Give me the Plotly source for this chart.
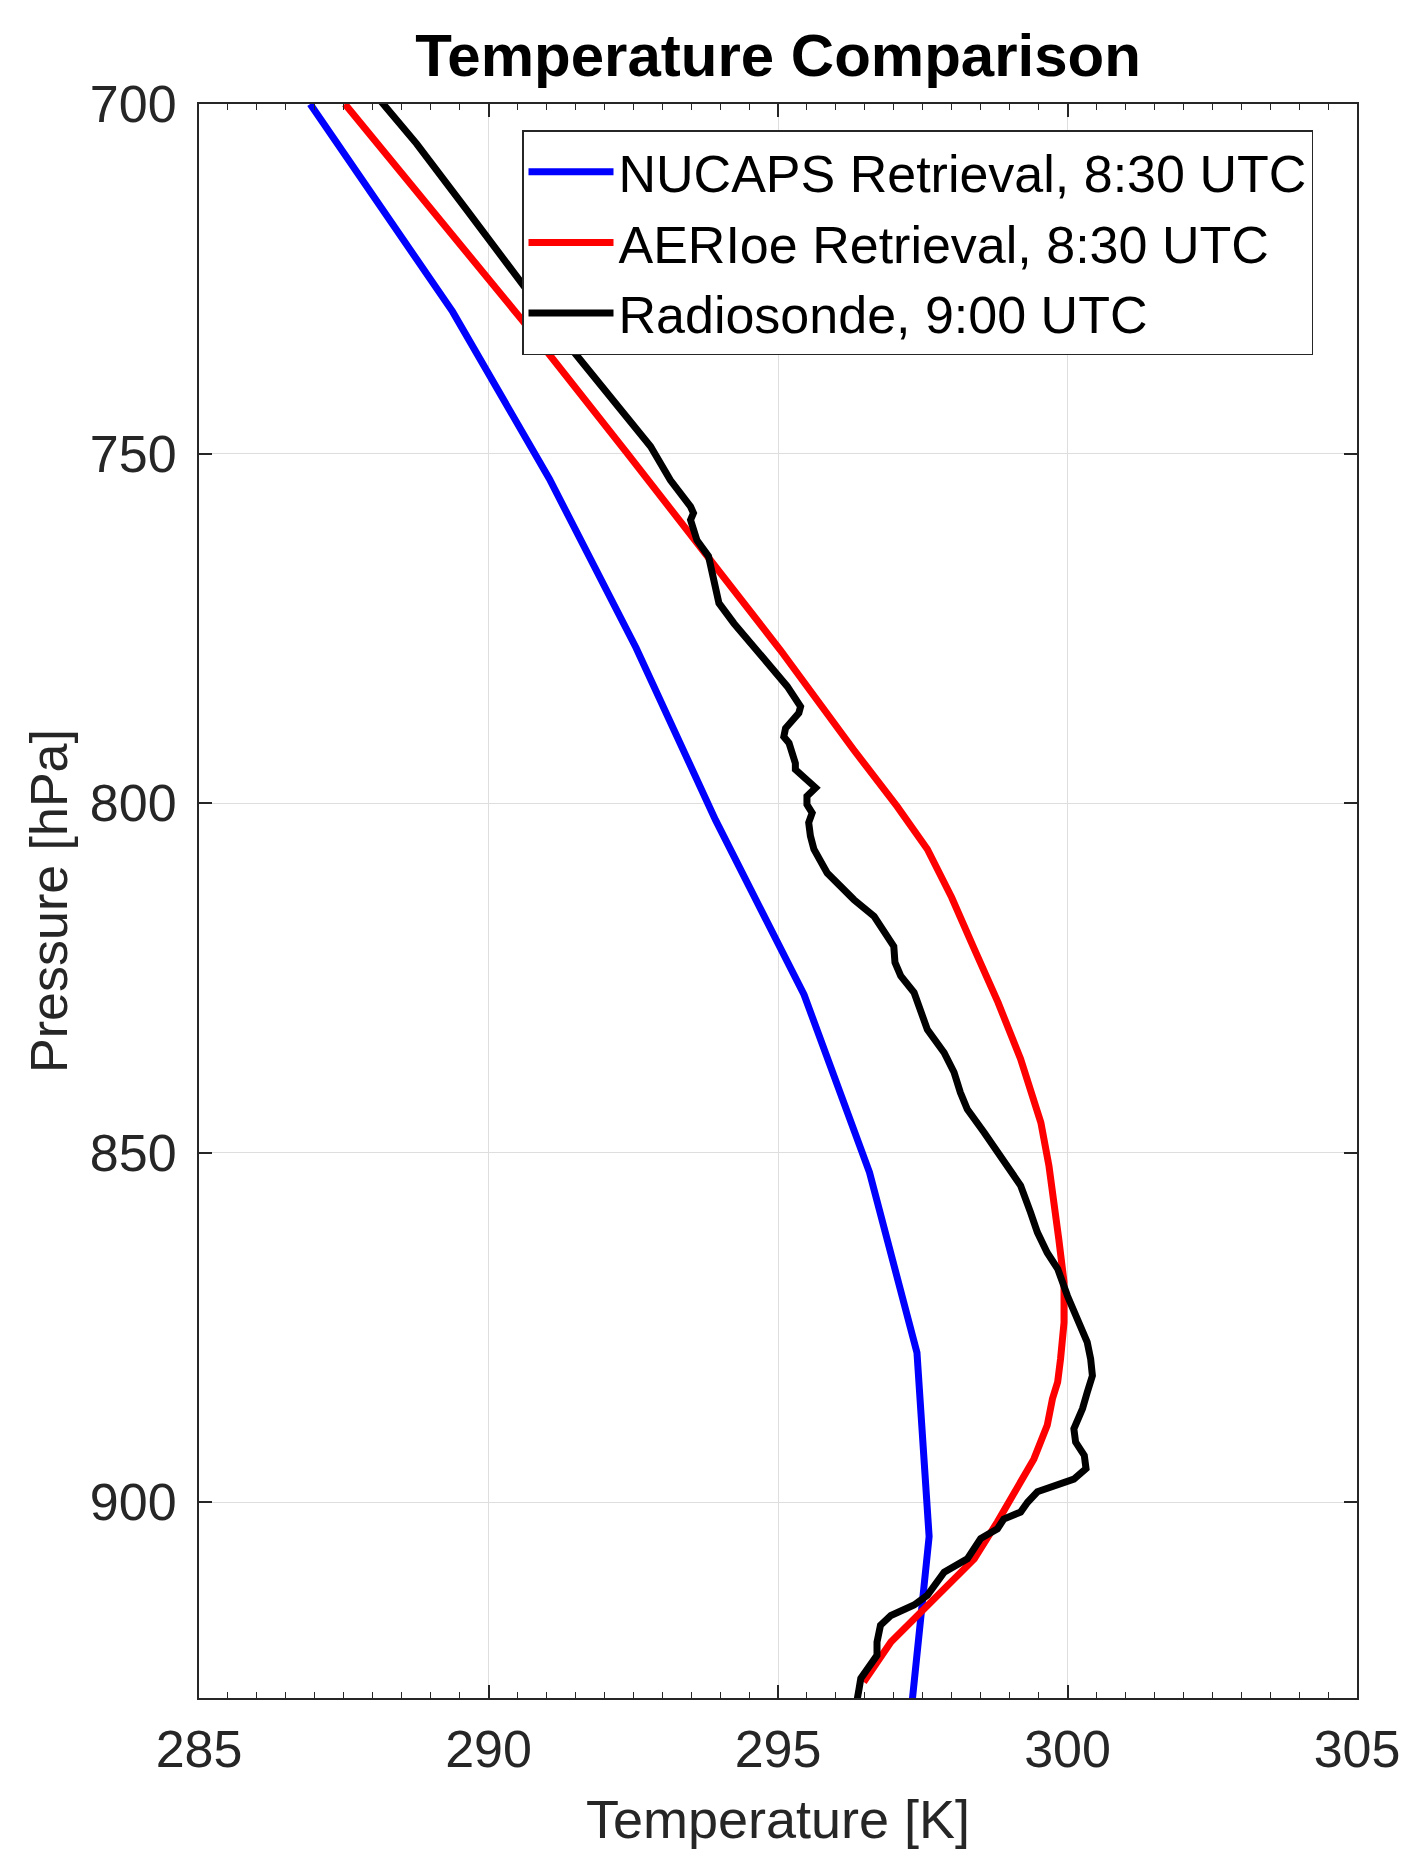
import plotly.graph_objects as go

# ---------------- data ----------------
nucaps_p = [700.0, 706.6, 729.7, 753.6, 777.8, 802.4, 827.4, 852.8, 878.6, 904.9, 931.5]
nucaps_t = [286.92, 287.47, 289.38, 291.05, 292.55, 293.92, 295.45, 296.58, 297.40, 297.61, 297.28]

aeri_p = [700.0, 715.0, 730.9, 750.0, 763.3, 778.1, 792.4, 800.5, 806.6, 813.5, 820.5,
          828.5, 836.6, 845.7, 851.9, 857.0, 862.4, 868.5, 874.3, 879.5, 882.8, 885.2,
          889.0, 893.8, 898.1, 902.8, 908.1, 915.2, 920.0, 925.7]
aeri_t = [287.52, 289.00, 290.58, 292.40, 293.66, 295.04, 296.31, 297.06, 297.58, 298.00, 298.37,
          298.80, 299.19, 299.54, 299.68, 299.77, 299.85, 299.94, 299.94, 299.88, 299.83, 299.74,
          299.65, 299.42, 299.13, 298.79, 298.39, 297.52, 296.95, 296.48]

sonde_p = [699.0, 705.7, 715.0, 725.2, 734.3, 749.0, 752.4, 753.8, 757.6, 758.5, 759.5,
           762.4, 764.7, 767.1, 769.5, 771.4, 774.3, 777.6, 780.9, 783.3, 786.2, 787.1,
           789.3, 790.5, 791.4, 792.8, 794.3, 795.2, 796.4, 797.8, 799.0, 800.2, 801.4,
           802.8, 804.7, 806.6, 810.0, 813.8, 816.2, 820.5, 822.8, 824.7, 827.1, 830.0,
           832.4, 835.7, 838.5, 841.4, 843.8, 847.1, 850.5, 854.7, 858.5, 861.4, 864.3,
           866.6, 870.5, 873.8, 877.1, 879.5, 881.9, 884.3, 886.6, 889.5, 891.4, 893.3,
           895.2, 896.7, 897.6, 898.5, 900.0, 901.4, 902.4, 903.8, 905.2, 906.6, 908.1,
           910.0, 911.4, 913.3, 914.7, 916.2, 917.6, 920.0, 921.9, 923.8, 925.2, 926.7, 928.1]
sonde_t = [288.08, 288.76, 289.61, 290.55, 291.36, 292.80, 293.03, 293.14, 293.49, 293.54, 293.49,
           293.60, 293.80, 293.86, 293.92, 293.98, 294.24, 294.58, 294.93, 295.16, 295.39, 295.36,
           295.13, 295.10, 295.19, 295.24, 295.30, 295.30, 295.45, 295.65, 295.50, 295.50, 295.59,
           295.53, 295.56, 295.62, 295.85, 296.31, 296.66, 297.00, 297.02, 297.12, 297.35, 297.46,
           297.58, 297.87, 298.04, 298.15, 298.27, 298.56, 298.85, 299.19, 299.36, 299.48, 299.65,
           299.83, 300.00, 300.17, 300.34, 300.40, 300.43, 300.34, 300.26, 300.11, 300.14, 300.29,
           300.32, 300.11, 299.77, 299.48, 299.31, 299.19, 298.90, 298.79, 298.50, 298.39, 298.27,
           297.87, 297.75, 297.58, 297.35, 296.95, 296.77, 296.71, 296.71, 296.54, 296.43, 296.40, 296.37]

series_names = ["NUCAPS Retrieval, 8:30 UTC", "AERIoe Retrieval, 8:30 UTC", "Radiosonde, 9:00 UTC"]
series_colors = ["#0000ff", "#ff0000", "#000000"]

x_ticks = [285, 290, 295, 300, 305]
y_ticks = [700, 750, 800, 850, 900]

TEXT = "#262626"
FONT = "Liberation Sans, Arial, Helvetica, sans-serif"

fig = go.Figure()
for (p, t), name, col in zip([(nucaps_p, nucaps_t), (aeri_p, aeri_t), (sonde_p, sonde_t)],
                             series_names, series_colors):
    fig.add_trace(go.Scatter(x=t, y=p, mode="lines", name=name,
                             line=dict(color=col, width=7), cliponaxis=True))

axis_common = dict(
    showline=True, linecolor=TEXT, linewidth=2, mirror="ticks",
    ticks="inside", tickcolor=TEXT, tickwidth=1.5,
    showgrid=True, gridcolor="#dedede", gridwidth=1,
    zeroline=False, automargin=False,
    tickfont=dict(family=FONT, size=52, color=TEXT),
)

fig.update_layout(
    width=1401, height=1854,
    margin=dict(l=199, r=44, t=104, b=156),
    paper_bgcolor="white", plot_bgcolor="white",
    font=dict(family=FONT, size=52, color=TEXT),
    title=dict(text="<b>Temperature Comparison</b>", font=dict(family=FONT, size=60, color="#000000"),
               x=0.5, xref="paper", xanchor="center", y=1 - 55 / 1854, yref="container", yanchor="middle",
               automargin=False),
    xaxis=dict(range=[285, 305], tickvals=x_ticks, ticktext=[str(v) for v in x_ticks], ticklen=13,
               minor=dict(dtick=0.5, ticks="inside", ticklen=6, tickcolor=TEXT, tickwidth=1.2, showgrid=False),
               title=dict(text="Temperature [K]", font=dict(family=FONT, size=54, color=TEXT), standoff=23),
               ticklabelstandoff=5, **axis_common),
    yaxis=dict(range=[928, 700], tickvals=y_ticks, ticktext=[str(v) for v in y_ticks], ticklen=13,
               title=dict(text="Pressure [hPa]", font=dict(family=FONT, size=52, color=TEXT), standoff=6),
               ticklabelstandoff=10, **axis_common),
    legend=dict(x=(522 - 199) / 1158, y=1 - (130 - 104) / 1594, xanchor="left", yanchor="top",
                bgcolor="white", bordercolor=TEXT, borderwidth=1.5,
                font=dict(family=FONT, size=52, color="#000000"), itemwidth=85,
                tracegroupgap=0),
    showlegend=True,
)

fig.write_html("out.html")
